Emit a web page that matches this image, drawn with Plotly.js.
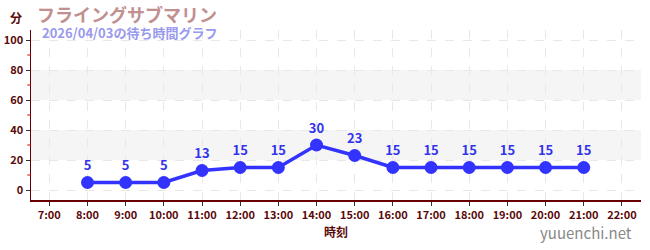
<!DOCTYPE html>
<html><head><meta charset="utf-8">
<script src="https://cdn.plot.ly/plotly-3.0.1.min.js"></script>
<style>html,body{margin:0;padding:0;background:#fff}#c{width:650px;height:250px}</style>
</head><body><div id="c"></div>
<script>
const hours = [8,9,10,11,12,13,14,15,16,17,18,19,20,21];
const waits = [5,5,5,13,15,15,30,23,15,15,15,15,15,15];
const tickHours = [7,8,9,10,11,12,13,14,15,16,17,18,19,20,21,22];
const tickLabels = tickHours.map(h => h + ':00');
const bands = [[20,40],[60,80]];

const fontFam = '"Noto Sans CJK JP", "Noto Sans", sans-serif';
const shapes = bands.map(b => ({type:'rect', xref:'paper', yref:'y', x0:0, x1:1, y0:b[0], y1:b[1], fillcolor:'#f5f5f5', line:{width:0}, layer:'below'}));
[10,30,50,70,90].forEach(v => shapes.push({type:'line', xref:'paper', yref:'y', x0:-0.006, x1:0, y0:v, y1:v, line:{color:'#dd0000', width:1}}));

const trace = {
  x: hours, y: waits, type:'scatter', mode:'lines+markers+text',
  text: waits.map(String), textposition:'top center',
  textfont:{color:'#3333ee', size:13, family:fontFam, weight:'bold'},
  line:{color:'#3333ff', width:3.5}, marker:{color:'#3333ff', size:13},
  cliponaxis:false, hoverinfo:'none'
};
const layout = {
  width:650, height:250,
  margin:{l:31, r:9, t:30, b:50},
  paper_bgcolor:'#fff', plot_bgcolor:'#fff',
  showlegend:false,
  font:{family:fontFam},
  xaxis:{range:[6.52,22.5], tickvals:tickHours, ticktext:tickLabels,
    showgrid:true, gridcolor:'#e8e8e8', griddash:'dash', gridwidth:1,
    zeroline:false, showline:true, linecolor:'#660000', linewidth:1.5,
    ticks:'outside', ticklen:4, tickcolor:'#333',
    tickfont:{size:11, color:'#5a0a0a', family:fontFam, weight:'bold'},
    title:{text:'時刻', font:{size:12, color:'#5a0a0a', family:fontFam, weight:'bold'}, standoff:8}},
  yaxis:{range:[-6.67,106.7], tickvals:[0,20,40,60,80,100],
    showgrid:true, gridcolor:'#e8e8e8', griddash:'dash', gridwidth:1,
    zeroline:false, showline:true, linecolor:'#660000', linewidth:1.5,
    ticks:'outside', ticklen:4, tickcolor:'#333',
    tickfont:{size:11, color:'#5a0a0a', family:fontFam, weight:'bold'}},
  shapes: shapes,
  annotations:[
    {text:'分', xref:'paper', yref:'paper', x:-0.038, y:1.076, xanchor:'left', yanchor:'middle', showarrow:false, font:{size:12, color:'#5a0a0a', family:fontFam, weight:'bold'}},
    {text:'フライングサブマリン', xref:'paper', yref:'paper', x:0.006, y:1.092, xanchor:'left', yanchor:'middle', showarrow:false, font:{size:18, color:'#c09090', family:fontFam, weight:'bold'}},
    {text:'2026/04/03の待ち時間グラフ', xref:'paper', yref:'paper', x:0.015, y:0.985, xanchor:'left', yanchor:'middle', showarrow:false, font:{size:13, color:'#9999ee', family:fontFam, weight:'bold'}},
    {text:'yuuenchi.net', xref:'paper', yref:'paper', x:0.988, y:-0.19, xanchor:'right', yanchor:'middle', showarrow:false, font:{size:15, color:'#888', family:fontFam}}
  ]
};
Plotly.newPlot('c', [trace], layout, {staticPlot:true, displayModeBar:false});
</script></body></html>
